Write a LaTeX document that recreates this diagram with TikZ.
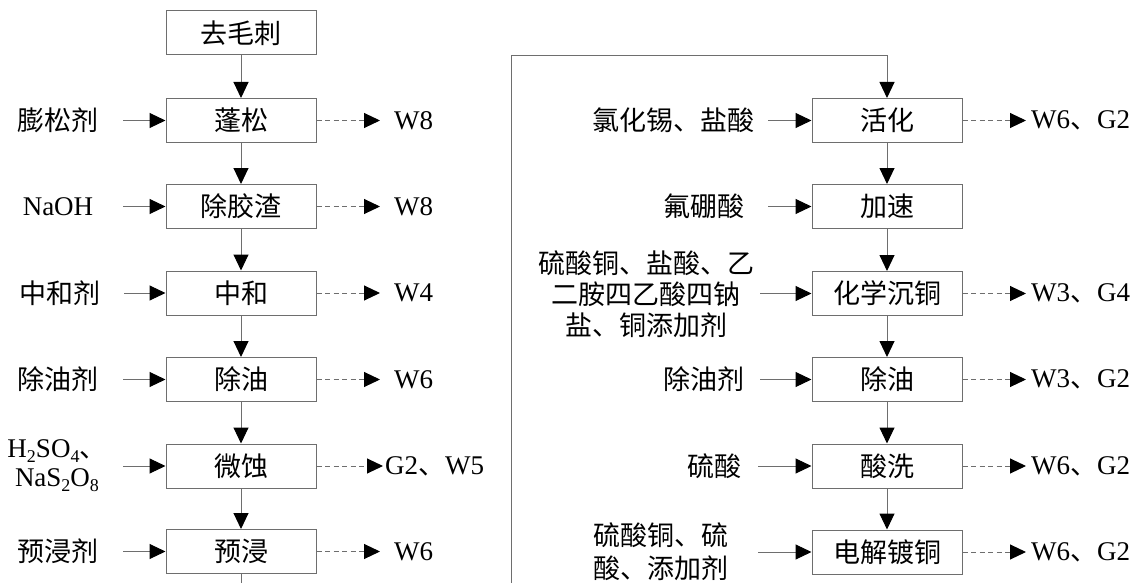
\documentclass[tikz,border=0pt]{standalone}
\usepackage{fontspec}
\setmainfont{Liberation Serif}
\newfontfamily\cjk{Noto Sans CJK SC}
\usetikzlibrary{arrows.meta}
\definecolor{linegray}{RGB}{110,110,110}
\newcommand\mysub[1]{\raisebox{-0.18em}{\fontsize{18}{18}\selectfont #1}}
\begin{document}
\begin{tikzpicture}[x=1pt,y=-1pt,
  proc/.style={draw=linegray, line width=1pt, minimum width=150pt, minimum height=44pt,
    inner sep=0pt, text=black, font=\fontsize{27}{31}\selectfont\cjk},
  txt/.style={inner sep=0pt, text=black, font=\fontsize{27}{31}\selectfont},
  flow/.style={draw=linegray, line width=1pt, -{Triangle[length=16pt,width=15pt,color=black]}},
  outflow/.style={flow, dash pattern=on 5pt off 3.5pt}]
\useasboundingbox (0,0) rectangle (1140,583);
\clip (0,0) rectangle (1140,583);

% left column
\node[proc] (p0) at (241,33) {去毛刺};
\node[proc] (p1) at (241,120.5) {蓬松};
\node[proc] (p2) at (241,206.5) {除胶渣};
\node[proc] (p3) at (241,293) {中和};
\node[proc] (p4) at (241,379.5) {除油};
\node[proc] (p5) at (241,466) {微蚀};
\node[proc] (p6) at (241,551.5) {预浸};

% right column
\node[proc] (r1) at (887,120.5) {活化};
\node[proc] (r2) at (887,206.5) {加速};
\node[proc] (r3) at (887,293.5) {化学沉铜};
\node[proc] (r4) at (887,379.5) {除油};
\node[proc] (r5) at (887,466) {酸洗};
\node[proc] (r6) at (887,552) {电解镀铜};

% vertical flow
\draw[flow] (p0) -- (p1);
\draw[flow] (p1) -- (p2);
\draw[flow] (p2) -- (p3);
\draw[flow] (p3) -- (p4);
\draw[flow] (p4) -- (p5);
\draw[flow] (p5) -- (p6);
\draw[flow] (p6.south) -- (241,600) -- (511,600) -- (511,55.7) -| (r1.north);
\draw[flow] (r1) -- (r2);
\draw[flow] (r2) -- (r3);
\draw[flow] (r3) -- (r4);
\draw[flow] (r4) -- (r5);
\draw[flow] (r5) -- (r6);

% left inputs
\node[txt] (l1) at (58,120.5) {\cjk 膨松剂};
\node[txt] (l2) at (58,206.5) {NaOH};
\node[txt] (l3) at (60,293) {\cjk 中和剂};
\node[txt] (l4) at (58,379.5) {\cjk 除油剂};
\node[txt, align=center, font=\fontsize{27}{29}\selectfont] (l5) at (57,466)
  {H\mysub{2}SO\mysub{4}{\cjk 、}\\NaS\mysub{2}O\mysub{8}};
\node[txt] (l6) at (58,551.5) {\cjk 预浸剂};
\coordinate (i1) at (123,120.5);
\coordinate (i2) at (123,206.5);
\coordinate (i3) at (124,293);
\coordinate (i4) at (123,379.5);
\coordinate (i5) at (123,466);
\coordinate (i6) at (123,551.5);
\draw[flow] (i1) -- (p1.west);
\draw[flow] (i2) -- (p2.west);
\draw[flow] (i3) -- (p3.west);
\draw[flow] (i4) -- (p4.west);
\draw[flow] (i5) -- (p5.west);
\draw[flow] (i6) -- (p6.west);

% left outputs
\node[txt, anchor=west] (w1) at (394,120.5) {W8};
\node[txt, anchor=west] (w2) at (394,206.5) {W8};
\node[txt, anchor=west] (w3) at (394,293) {W4};
\node[txt, anchor=west] (w4) at (394,379.5) {W6};
\node[txt, anchor=west] (w5) at (385,466) {G2{\cjk 、}W5};
\node[txt, anchor=west] (w6) at (394,551.5) {W6};
\coordinate (o1) at (380,120.5);
\coordinate (o2) at (380,206.5);
\coordinate (o3) at (380,293);
\coordinate (o4) at (380,379.5);
\coordinate (o5) at (383,466);
\coordinate (o6) at (380,551.5);
\draw[outflow] (p1.east) -- (o1);
\draw[outflow] (p2.east) -- (o2);
\draw[outflow] (p3.east) -- (o3);
\draw[outflow] (p4.east) -- (o4);
\draw[outflow] (p5.east) -- (o5);
\draw[outflow] (p6.east) -- (o6);

% right inputs
\node[txt, anchor=east] (m1) at (755,120.5) {\cjk 氯化锡、盐酸};
\node[txt, anchor=east] (m2) at (745,206.5) {\cjk 氟硼酸};
\node[txt, align=center] (m3) at (646,294) {\cjk 硫酸铜、盐酸、乙\\\cjk 二胺四乙酸四钠\\\cjk 盐、铜添加剂};
\node[txt, anchor=east] (m4) at (745,379.5) {\cjk 除油剂};
\node[txt, anchor=east] (m5) at (742,466) {\cjk 硫酸};
\node[txt, align=left, font=\fontsize{27}{33}\selectfont] (m6) at (661,552) {\cjk 硫酸铜、硫\\\cjk 酸、添加剂};
\coordinate (j1) at (768,120.5);
\coordinate (j2) at (768,206.5);
\coordinate (j3) at (760,293.5);
\coordinate (j4) at (760,379.5);
\coordinate (j5) at (758,466);
\coordinate (j6) at (758,552);
\draw[flow] (j1) -- (r1.west);
\draw[flow] (j2) -- (r2.west);
\draw[flow] (j3) -- (r3.west);
\draw[flow] (j4) -- (r4.west);
\draw[flow] (j5) -- (r5.west);
\draw[flow] (j6) -- (r6.west);

% right outputs
\node[txt, anchor=west] (v1) at (1031,120.5) {W6{\cjk 、}G2};
\node[txt, anchor=west] (v3) at (1031,293.5) {W3{\cjk 、}G4};
\node[txt, anchor=west] (v4) at (1031,379.5) {W3{\cjk 、}G2};
\node[txt, anchor=west] (v5) at (1031,466) {W6{\cjk 、}G2};
\node[txt, anchor=west] (v6) at (1031,552) {W6{\cjk 、}G2};
\coordinate (q1) at (1026,120.5);
\coordinate (q3) at (1026,293.5);
\coordinate (q4) at (1026,379.5);
\coordinate (q5) at (1026,466);
\coordinate (q6) at (1026,552);
\draw[outflow] (r1.east) -- (q1);
\draw[outflow] (r3.east) -- (q3);
\draw[outflow] (r4.east) -- (q4);
\draw[outflow] (r5.east) -- (q5);
\draw[outflow] (r6.east) -- (q6);
\end{tikzpicture}
\end{document}
